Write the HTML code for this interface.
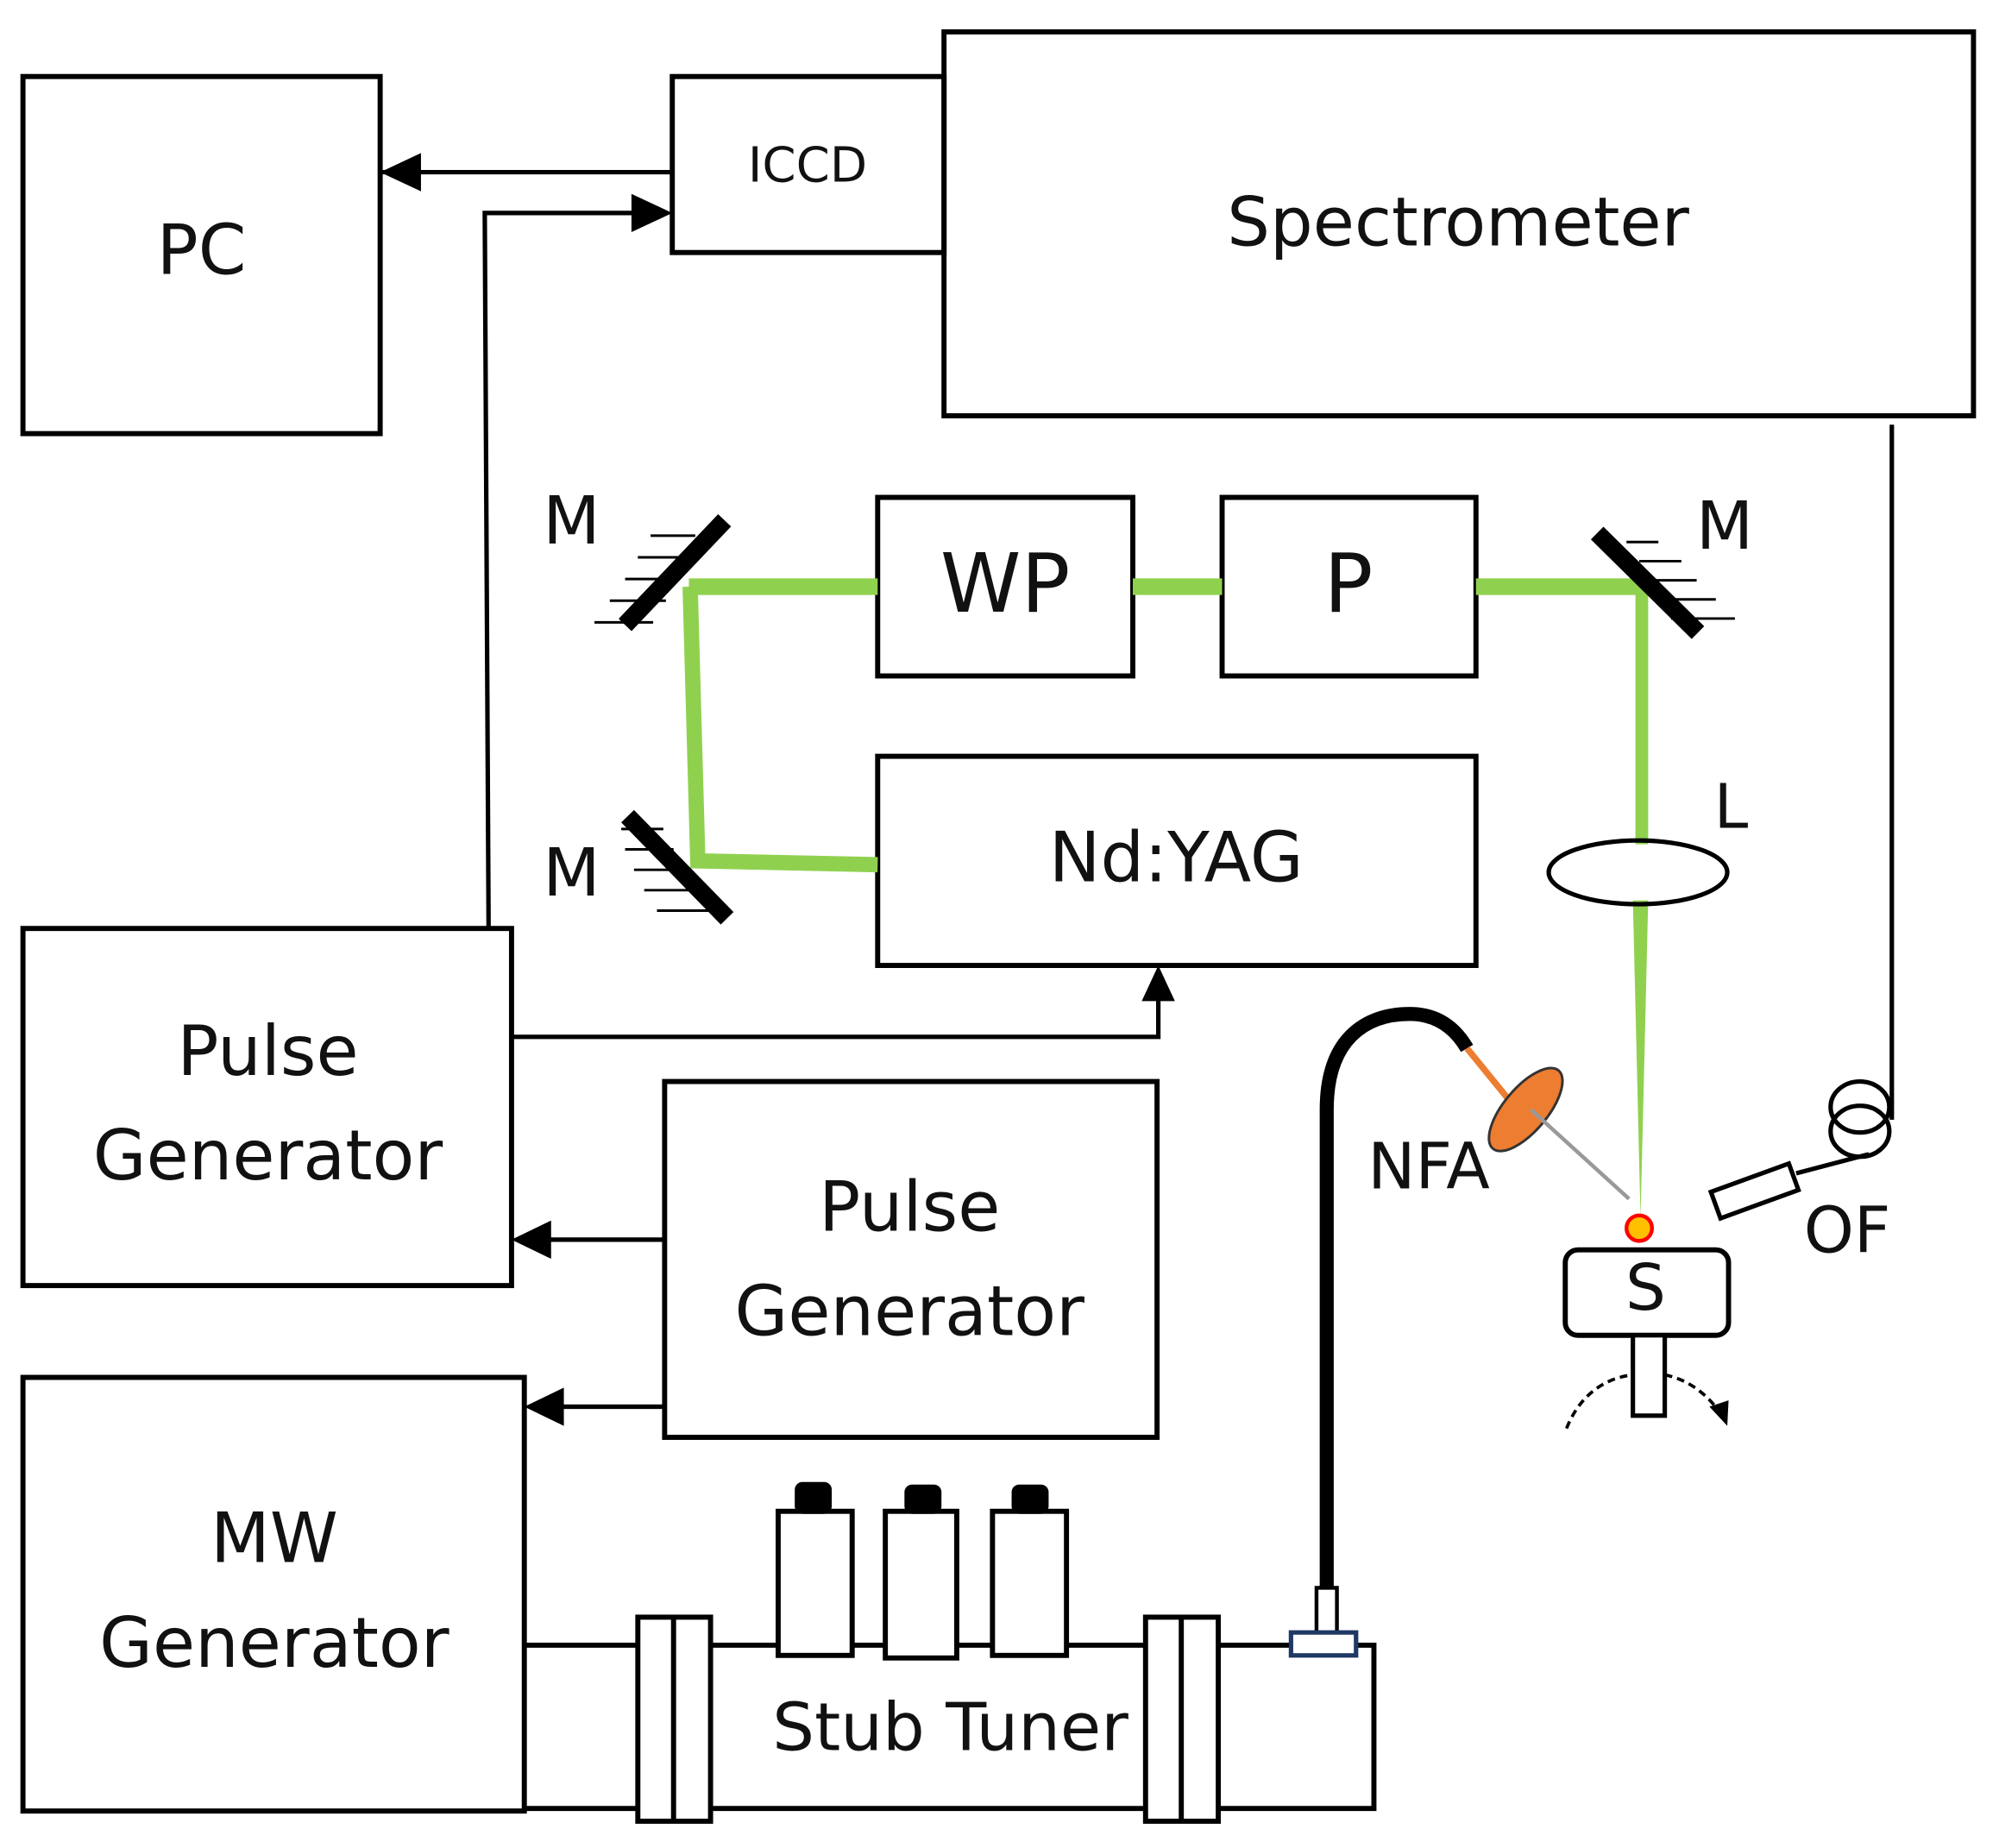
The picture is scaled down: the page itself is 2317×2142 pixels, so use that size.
<!DOCTYPE html>
<html><head><meta charset="utf-8"><style>
html,body{margin:0;padding:0;background:#fff;}
svg{display:block}
text{font-family:"DejaVu Sans","Liberation Sans",sans-serif;fill:#111;text-anchor:middle;dominant-baseline:middle}
</style></head><body>
<svg width="2317" height="2142" viewBox="0 0 1567 1449" preserveAspectRatio="none" xmlns="http://www.w3.org/2000/svg">
<g fill="none" stroke="#000" stroke-width="4">
<rect x="18" y="60" width="280" height="280"/>
<rect x="527" y="60" width="213" height="138"/>
<rect x="740" y="25" width="807" height="301"/>
<rect x="688" y="390" width="200" height="140"/>
<rect x="958" y="390" width="199" height="140"/>
<rect x="688" y="593" width="469" height="164"/>
<rect x="18" y="728" width="383" height="280"/>
<rect x="521" y="848" width="386" height="279"/>
<rect x="18" y="1080" width="393" height="340"/>
</g>
<g stroke="#000" stroke-width="3.5" fill="none">
<line x1="527" y1="135" x2="300" y2="135"/>
<polyline points="383,728 380,167 505,167"/>
<polyline points="401,813 908,813 908,780"/>
<line x1="521" y1="972" x2="425" y2="972"/>
<line x1="521" y1="1103" x2="435" y2="1103"/>
<line x1="1483" y1="333" x2="1483" y2="878"/>
</g>
<g fill="#000">
<path d="M298,135 L330,120 L330,150 z"/>
<path d="M527,167 L495,152 L495,182 z"/>
<path d="M908,757 L895,785 L921,785 z"/>
<path d="M401,972 L432,957 L432,987 z"/>
<path d="M411,1103 L442,1088 L442,1118 z"/>
</g>
<g stroke="#8fd14f" fill="none">
<polyline points="688,460 540,460" stroke-width="13"/>
<polyline points="888,460 958,460" stroke-width="13"/>
<polyline points="1157,460 1290,460" stroke-width="13"/>
<polyline points="541,460 547,675 688,678" stroke-width="12"/>
<line x1="1287" y1="460" x2="1287" y2="662" stroke-width="10"/>
</g>
<path d="M1280,706 L1292,706 L1286,955 z" fill="#8fd14f"/>
<g stroke="#000" stroke-width="2">
<line x1="510" y1="420" x2="545" y2="420"/><line x1="500" y1="437" x2="537" y2="437"/><line x1="490" y1="454" x2="530" y2="454"/><line x1="478" y1="471" x2="522" y2="471"/><line x1="466" y1="488" x2="512" y2="488"/>
<line x1="1275" y1="425" x2="1300" y2="425"/><line x1="1285" y1="440" x2="1318" y2="440"/><line x1="1293" y1="455" x2="1330" y2="455"/><line x1="1300" y1="470" x2="1345" y2="470"/><line x1="1310" y1="485" x2="1360" y2="485"/>
<line x1="487" y1="650" x2="520" y2="650"/><line x1="490" y1="666" x2="528" y2="666"/><line x1="497" y1="682" x2="537" y2="682"/><line x1="505" y1="698" x2="546" y2="698"/><line x1="515" y1="714" x2="556" y2="714"/>
</g>
<g stroke="#000" stroke-width="14">
<line x1="568" y1="408" x2="490" y2="490"/>
<line x1="1252" y1="418" x2="1331" y2="496"/>
<line x1="492" y1="640" x2="570" y2="720"/>
</g>
<ellipse cx="1284" cy="684" rx="70" ry="25" fill="none" stroke="#000" stroke-width="3.5"/>
<g stroke="#000" stroke-width="4" fill="#fff">
<polyline points="411,1290 1077,1290 1077,1418 411,1418" fill="none"/>
<rect x="500" y="1268" width="57" height="160"/>
<line x1="528" y1="1268" x2="528" y2="1428"/>
<rect x="898" y="1268" width="57" height="160"/>
<line x1="926" y1="1268" x2="926" y2="1428"/>
<rect x="610" y="1185" width="58" height="113"/>
<rect x="694" y="1185" width="56" height="115"/>
<rect x="778" y="1185" width="58" height="113"/>
</g>
<g fill="#000">
<rect x="623" y="1162" width="29" height="25" rx="6"/>
<rect x="709" y="1164" width="29" height="23" rx="6"/>
<rect x="793" y="1164" width="29" height="23" rx="6"/>
</g>
<path d="M1040,1248 L1040,870 C1040,815 1070,795 1105,795 C1130,795 1143,810 1150,822" fill="none" stroke="#000" stroke-width="11"/>
<rect x="1032" y="1245" width="16" height="40" fill="#fff" stroke="#000" stroke-width="3"/>
<rect x="1012" y="1280" width="51" height="18" fill="#fff" stroke="#1f3864" stroke-width="3.5"/>
<line x1="1150" y1="822" x2="1185" y2="865" stroke="#ed7d31" stroke-width="5"/>
<ellipse cx="1196" cy="870" rx="17" ry="40" transform="rotate(40 1196 870)" fill="#ed7d31" stroke="#333" stroke-width="2"/>
<line x1="1200" y1="870" x2="1277" y2="940" stroke="#999" stroke-width="3"/>
<circle cx="1285" cy="963" r="10" fill="#ffc000" stroke="#f00" stroke-width="3"/>
<rect x="1227" y="980" width="128" height="67" rx="10" fill="#fff" stroke="#000" stroke-width="4"/>
<rect x="1280" y="1047" width="25" height="63" fill="#fff" stroke="#000" stroke-width="3.5"/>
<path d="M1228,1120 C1240,1090 1262,1080 1280,1078 M1305,1078 C1325,1082 1340,1095 1350,1110" fill="none" stroke="#000" stroke-width="2.5" stroke-dasharray="6,4"/>
<path d="M1354,1118 L1340,1103 L1355,1098 z" fill="#000"/>
<g fill="none" stroke="#000" stroke-width="3.5">
<ellipse cx="1458" cy="868" rx="23" ry="20"/>
<ellipse cx="1458" cy="887" rx="23" ry="20"/>
<line x1="1465" y1="905" x2="1408" y2="920"/>
<rect x="1343" y="923" width="65" height="22" transform="rotate(-20 1375 934)"/>
</g>
<text x="158" y="200" font-size="54">PC</text>
<text x="633" y="132" font-size="38">ICCD</text>
<text x="1143" y="178" font-size="53">Spectrometer</text>
<text x="788" y="462" font-size="64">WP</text>
<text x="1057" y="462" font-size="64">P</text>
<text x="922" y="676" font-size="54">Nd:YAG</text>
<text x="448" y="412" font-size="52">M</text>
<text x="1352" y="416" font-size="52">M</text>
<text x="448" y="688" font-size="52">M</text>
<text x="1357" y="636" font-size="48">L</text>
<text x="210" y="828" font-size="54">Pulse</text>
<text x="210" y="910" font-size="54">Generator</text>
<text x="713" y="950" font-size="54">Pulse</text>
<text x="713" y="1032" font-size="54">Generator</text>
<text x="215" y="1210" font-size="54">MW</text>
<text x="215" y="1292" font-size="54">Generator</text>
<text x="745" y="1358" font-size="52">Stub Tuner</text>
<text x="1120" y="918" font-size="50">NFA</text>
<text x="1290" y="1013" font-size="50">S</text>
<text x="1448" y="968" font-size="50">OF</text>
</svg>
</body></html>
